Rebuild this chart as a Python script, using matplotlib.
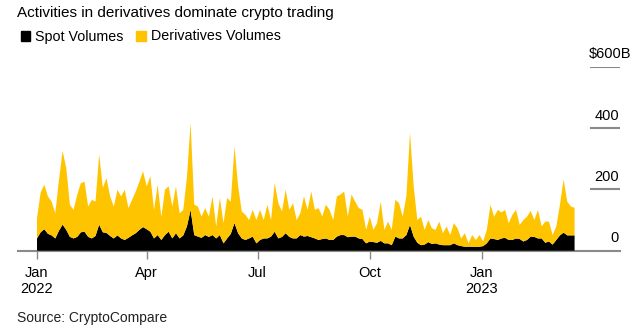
import matplotlib
matplotlib.use("Agg")
import matplotlib.pyplot as plt
from matplotlib.patches import Rectangle
import pandas as pd

plt.rcParams['font.family'] = ['Liberation Sans', 'DejaVu Sans']

# ---- data (billions USD, sampled every 3 days from 2022-01-01) ----
spot_volumes = [
    40, 60, 70, 55, 50, 40, 65, 85, 68, 45, 40, 45, 60, 62, 45, 40, 48, 85, 60, 58, 48, 40, 50, 40,
    35, 42, 50, 57, 68, 77, 70, 62, 40, 51, 35, 51, 62, 40, 57, 40, 50, 79, 133, 51, 46, 42, 51, 45,
    51, 40, 51, 24, 40, 55, 90, 57, 40, 35, 40, 46, 24, 35, 40, 40, 46, 62, 40, 45, 57, 45, 40, 40, 51,
    46, 48, 44, 40, 35, 38, 40, 35, 35, 46, 51, 51, 44, 46, 46, 40, 38, 24, 30, 28, 26, 32, 24, 24, 18,
    46, 40, 40, 51, 84, 46, 26, 18, 20, 28, 22, 24, 20, 18, 18, 18, 24, 18, 15, 13, 13, 13, 12, 13, 15,
    24, 40, 38, 35, 40, 42, 35, 35, 40, 38, 30, 35, 46, 45, 40, 40, 26, 30, 20, 35, 50, 59, 50, 50, 50,
]
derivatives_volumes = [
    66, 130, 145, 122, 110, 82, 165, 240, 202, 105, 93, 138, 160, 163, 99, 126, 112, 229, 145, 179,
    129, 104, 149, 137, 164, 97, 116, 136, 157, 182, 140, 181, 93, 164, 75, 148, 148, 104, 153, 82,
    83, 161, 284, 99, 98, 69, 88, 66, 126, 39, 121, 66, 132, 105, 251, 153, 88, 82, 60, 87,
    76, 98, 60, 110, 54, 159, 115, 83, 142, 88, 115, 60, 71, 131, 85, 149, 93, 104, 73, 110,
    98, 65, 131, 132, 142, 67, 137, 114, 99, 95, 44, 81, 40, 64, 128, 44, 71, 50, 120, 115,
    71, 126, 301, 164, 74, 93, 48, 72, 51, 44, 75, 39, 61, 33, 66, 55, 25, 44, 11, 38,
    23, 38, 15, 44, 110, 73, 98, 85, 91, 55, 82, 93, 46, 70, 76, 84, 55, 93, 39, 69,
    65, 31, 44, 100, 173, 110, 94, 90,
]
dates = pd.date_range("2022-01-01", periods=len(spot_volumes), freq="3D")

tick_dates = ["2022-01-01", "2022-04-01", "2022-07-01", "2022-10-01", "2023-01-01"]
tick_labels = ["Jan\n2022", "Apr", "Jul", "Oct", "Jan\n2023"]
y_ticks = [0, 200, 400, 600]
y_labels = ["0", "200", "400", "$600B"]

series_names = ["Spot Volumes", "Derivatives Volumes"]
colors = ["#000000", "#FFC400"]
GRAY = "#8a8a8a"

W, H = 636, 332
fig = plt.figure(figsize=(W / 100, H / 100), dpi=100)

x0, x1 = 18, 620          # axes pixel extent (x)
ybase, ytop = 250.7, 66.7  # pixel rows for 0 and 600
ax = fig.add_axes([x0 / W, (H - ybase) / H, (x1 - x0) / W, (ybase - ytop) / H])

ax.stackplot(dates, spot_volumes, derivatives_volumes, colors=colors, linewidth=0, zorder=2)

start = pd.Timestamp("2022-01-01")
px_per_day = 1.219
left = start + pd.Timedelta(days=(x0 - 37) / px_per_day)
right = start + pd.Timedelta(days=(x1 - 37) / px_per_day)
ax.set_xlim(left, right)
ax.set_ylim(0, 600)

for s in ax.spines.values():
    s.set_visible(False)
ax.axhline(0, color=GRAY, lw=1.5, zorder=1, clip_on=False)

ax.set_xticks(pd.to_datetime(tick_dates))
ax.set_xticklabels(tick_labels, fontsize=10.5, linespacing=1.15)
ax.tick_params(axis="x", length=6, width=1, color=GRAY, pad=5)
ax.set_yticks([])

xm = (591 - x0) / (x1 - x0)
for yv, lab in zip(y_ticks, y_labels):
    if yv != 0:
        ax.axhline(yv, xmin=xm, xmax=1.0, color=GRAY, lw=1.5, zorder=1)
    xr = 0.998 if not lab.endswith("B") else (631 - x0) / (x1 - x0)
    ax.annotate(lab, xy=(xr, yv), xycoords=("axes fraction", "data"),
                xytext=(0, 6), textcoords="offset points",
                ha="right", va="baseline", fontsize=10.5, annotation_clip=False)

# title
fig.text(17 / W, 1 - 17 / H, "Activities in derivatives dominate crypto trading",
         fontsize=11, va="baseline", ha="left", color="#000000")

# legend
lx = 20.5
for name, c in zip(series_names, colors):
    fig.patches.append(Rectangle((lx / W, 1 - 40.5 / H), 9.5 / W, 9.5 / H,
                                 transform=fig.transFigure, color=c, figure=fig))
    t = fig.text((lx + 14.5) / W, 1 - 40.5 / H, name, fontsize=10.3, va="baseline", ha="left")
    fig.canvas.draw()
    bb = t.get_window_extent()
    lx = bb.x1 + 13

fig.text(17 / W, 1 - 322 / H, "Source: CryptoCompare", fontsize=10, va="baseline",
         ha="left", color="#222222")

fig.savefig("out.png", dpi=100)
